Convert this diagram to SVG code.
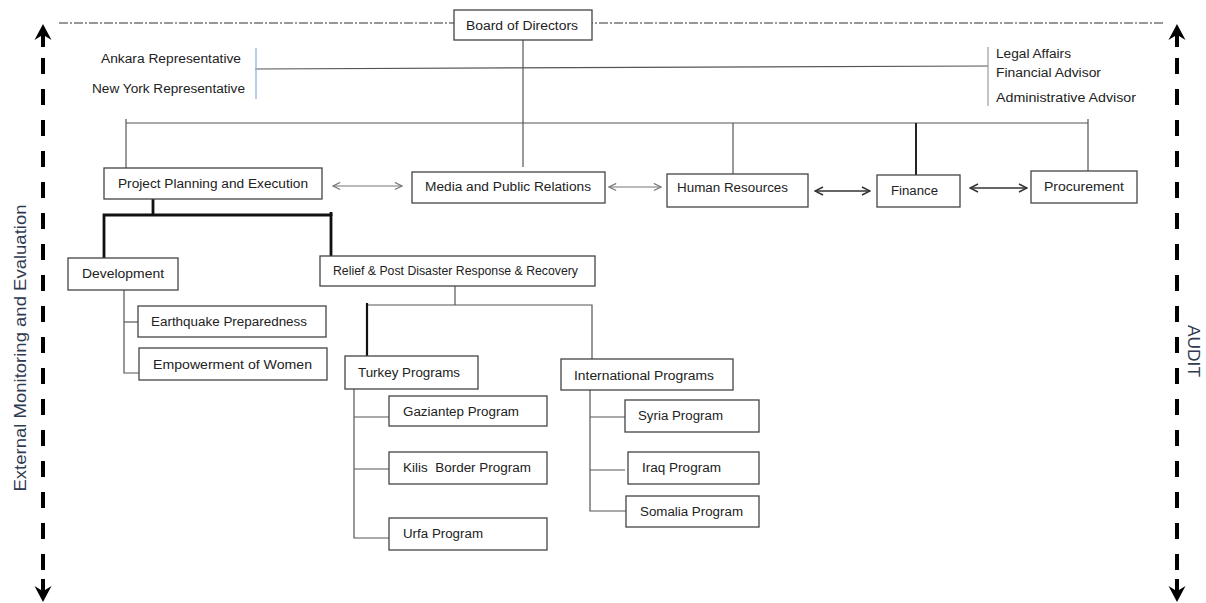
<svg xmlns="http://www.w3.org/2000/svg" width="1206" height="603" viewBox="0 0 1206 603">
<defs>
<style>
.box{fill:#fff;stroke:#444;stroke-width:1.3}
.t{font-family:"Liberation Sans",Arial,sans-serif;font-size:12.5px;fill:#222;dominant-baseline:central}
.side{font-family:"Liberation Sans",Arial,sans-serif;font-size:16px;fill:#2f3a50;dominant-baseline:central;text-anchor:middle}
.ln{fill:none;stroke:#555;stroke-width:1.2}
.thick{fill:none;stroke:#111;stroke-width:2.8}
.dash{fill:none;stroke:#000;stroke-width:4;stroke-dasharray:16 15}
.head{fill:#000;stroke:none}
.arrL{fill:none;stroke:#777;stroke-width:1.1;marker-start:url(#ch);marker-end:url(#ch)}
.arrD{fill:none;stroke:#333;stroke-width:1.5;marker-start:url(#chd);marker-end:url(#chd)}
</style>
<marker id="ch" viewBox="0 0 10 10" refX="9" refY="5" markerWidth="9" markerHeight="9" markerUnits="userSpaceOnUse" orient="auto-start-reverse">
<path d="M1,1 L9,5 L1,9" fill="none" stroke="#777" stroke-width="1.3"/>
</marker>
<marker id="chd" viewBox="0 0 10 10" refX="9" refY="5" markerWidth="10" markerHeight="10" markerUnits="userSpaceOnUse" orient="auto-start-reverse">
<path d="M1,1 L9,5 L1,9" fill="none" stroke="#333" stroke-width="1.5"/>
</marker>
</defs>
<rect width="1206" height="603" fill="#fff"/>

<g id="connectors">
<path d="M59,23 H1163" fill="none" stroke="#777" stroke-width="1.5" stroke-dasharray="9 2 2 2"/>
<path class="ln" d="M523,40 V167"/>
<path class="ln" d="M255,69 L988,66"/>
<path d="M256,48 V99" fill="none" stroke="#8eb4e3" stroke-width="1.3"/>
<path d="M988,47 V106" fill="none" stroke="#888" stroke-width="1"/>
<path class="ln" d="M126,123 H1088"/>
<path class="ln" d="M126,119 V168"/>
<path class="ln" d="M1088,119 V171"/>
<path class="ln" d="M733,123 V174"/>
<path d="M916,123 V175" fill="none" stroke="#222" stroke-width="2"/>
<path class="thick" d="M153,199 V215"/>
<path class="thick" d="M104,258 V215 H331 V256"/>
<path class="thick" d="M331,212 V216"/>
<path class="ln" d="M124,290 V373 H139"/>
<path class="ln" d="M124,322 H138"/>
<path class="ln" d="M455,286 V305"/>
<path class="ln" d="M367,305 H592 V359"/>
<path d="M367,303 V356" fill="none" stroke="#111" stroke-width="2.2"/>
<path class="ln" d="M354,389 V538 H389"/>
<path class="ln" d="M354,417 H389"/>
<path class="ln" d="M354,469 H389"/>
<path class="ln" d="M590,390 V511 H626" stroke="#777"/>
<path class="ln" d="M590,417 H625"/>
<path class="ln" d="M590,470 H625"/>
<path class="arrL" d="M333,186 H402"/>
<path class="arrL" d="M609,187 H661"/>
<path class="arrD" d="M815,191 H870"/>
<path class="arrD" d="M970,188 H1027"/>
<path class="dash" d="M43,58 V572"/>
<path class="head" d="M43,24 L51.5,40 L45,36 V47 H41 V36 L34.5,40 Z"/>
<path class="head" d="M43,602 L51.5,586 L45,590 V579 H41 V590 L34.5,586 Z"/>
<path class="dash" d="M1177,58 V572"/>
<path class="head" d="M1177,24 L1185.5,40 L1179,36 V47 H1175 V36 L1168.5,40 Z"/>
<path class="head" d="M1177,602 L1185.5,586 L1179,590 V579 H1175 V590 L1168.5,586 Z"/>
</g>

<g id="board"><rect class="box" x="454" y="10" width="138" height="30"/><text class="t" x="466" y="26" textLength="112" lengthAdjust="spacingAndGlyphs">Board of Directors</text></g>
<g id="ankara"><text class="t" x="101" y="59" textLength="140" lengthAdjust="spacingAndGlyphs">Ankara Representative</text></g>
<g id="newyork"><text class="t" x="92" y="89" textLength="153" lengthAdjust="spacingAndGlyphs">New York Representative</text></g>
<g id="legal"><text class="t" x="996" y="54" textLength="75" lengthAdjust="spacingAndGlyphs">Legal Affairs</text></g>
<g id="financial"><text class="t" x="996" y="73" textLength="105" lengthAdjust="spacingAndGlyphs">Financial Advisor</text></g>
<g id="admin"><text class="t" x="996" y="98" textLength="140" lengthAdjust="spacingAndGlyphs">Administrative Advisor</text></g>

<g id="ppe"><rect class="box" x="104" y="168" width="218" height="31"/><text class="t" x="118" y="184" textLength="190" lengthAdjust="spacingAndGlyphs">Project Planning and Execution</text></g>
<g id="media"><rect class="box" x="412" y="172" width="193" height="31"/><text class="t" x="425" y="187" textLength="166" lengthAdjust="spacingAndGlyphs">Media and Public Relations</text></g>
<g id="hr"><rect class="box" x="667" y="174" width="141" height="33"/><text class="t" x="677" y="188" textLength="111" lengthAdjust="spacingAndGlyphs">Human Resources</text></g>
<g id="finance"><rect class="box" x="877" y="175" width="83" height="32"/><text class="t" x="891" y="191" textLength="47" lengthAdjust="spacingAndGlyphs">Finance</text></g>
<g id="procurement"><rect class="box" x="1031" y="171" width="106" height="32"/><text class="t" x="1044" y="187" textLength="80" lengthAdjust="spacingAndGlyphs">Procurement</text></g>

<g id="development"><rect class="box" x="68" y="258" width="110" height="32"/><text class="t" x="82" y="274" textLength="82" lengthAdjust="spacingAndGlyphs">Development</text></g>
<g id="relief"><rect class="box" x="320" y="256" width="275" height="30"/><text class="t" x="333" y="271" textLength="245" lengthAdjust="spacingAndGlyphs">Relief &amp; Post Disaster Response &amp; Recovery</text></g>
<g id="earthquake"><rect class="box" x="138" y="306" width="188" height="31"/><text class="t" x="151" y="322" textLength="156" lengthAdjust="spacingAndGlyphs">Earthquake Preparedness</text></g>
<g id="empowerment"><rect class="box" x="139" y="348" width="188" height="32"/><text class="t" x="153" y="365" textLength="159" lengthAdjust="spacingAndGlyphs">Empowerment of Women</text></g>

<g id="turkey"><rect class="box" x="345" y="356" width="133" height="33"/><text class="t" x="358" y="373" textLength="102" lengthAdjust="spacingAndGlyphs">Turkey Programs</text></g>
<g id="international"><rect class="box" x="561" y="359" width="172" height="31"/><text class="t" x="574" y="376" textLength="140" lengthAdjust="spacingAndGlyphs">International Programs</text></g>
<g id="gaziantep"><rect class="box" x="389" y="396" width="158" height="30"/><text class="t" x="403" y="412" textLength="116" lengthAdjust="spacingAndGlyphs">Gaziantep Program</text></g>
<g id="kilis"><rect class="box" x="389" y="452" width="158" height="32"/><text class="t" x="403" y="468" textLength="128" lengthAdjust="spacingAndGlyphs" xml:space="preserve">Kilis  Border Program</text></g>
<g id="urfa"><rect class="box" x="389" y="518" width="158" height="32"/><text class="t" x="403" y="534" textLength="80" lengthAdjust="spacingAndGlyphs">Urfa Program</text></g>
<g id="syria"><rect class="box" x="625" y="400" width="134" height="32"/><text class="t" x="638" y="416" textLength="85" lengthAdjust="spacingAndGlyphs">Syria Program</text></g>
<g id="iraq"><rect class="box" x="628" y="452" width="131" height="32"/><text class="t" x="642" y="468" textLength="79" lengthAdjust="spacingAndGlyphs">Iraq Program</text></g>
<g id="somalia"><rect class="box" x="626" y="496" width="133" height="31"/><text class="t" x="640" y="512" textLength="103" lengthAdjust="spacingAndGlyphs">Somalia Program</text></g>

<g id="external"><text class="side" x="20" y="348" transform="rotate(-90 20 348)" textLength="287" lengthAdjust="spacingAndGlyphs">External Monitoring and Evaluation</text></g>
<g id="audit"><text class="side" x="1193" y="351" transform="rotate(90 1193 351)" font-size="14" textLength="52" lengthAdjust="spacingAndGlyphs">AUDIT</text></g>
</svg>
